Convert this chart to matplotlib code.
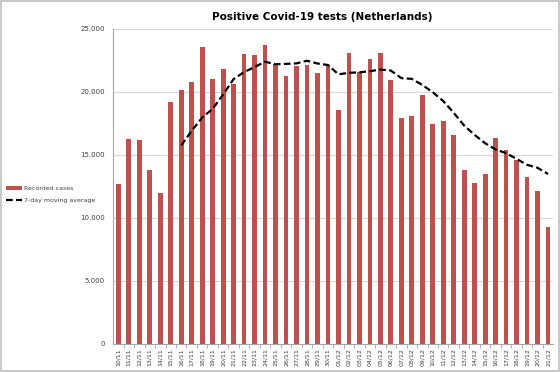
import matplotlib

matplotlib.use("Agg")
import matplotlib.pyplot as plt
from matplotlib.ticker import FuncFormatter

# Daily data 10/11 – 21/12
dates = [f"{d:02d}/11" for d in range(10, 31)] + [f"{d:02d}/12" for d in range(1, 22)]
cases = [
    12680, 16270, 16190, 13830, 12010, 19210, 20160, 20770, 23600, 21030,
    21800, 20660, 23020, 22960, 23700, 22200, 21300, 22040, 22140, 21480,
    22100, 18550, 23070, 21560, 22620, 23070, 20950, 17910, 18070, 19760,
    17460, 17730, 16590, 13780, 12750, 13470, 16320, 15370, 14580, 13250,
    12140, 9260,
]
# 7-day moving average (starts at 16/11)
avg_7d = [
    None, None, None, None, None, None, 15760, 16920, 17970, 18660,
    19800, 21030, 21580, 21980, 22400, 22200, 22230, 22270, 22480, 22260,
    22140, 21400, 21520, 21560, 21650, 21780, 21700, 21100, 21040, 20560,
    19980, 19280, 18350, 17330, 16590, 15930, 15440, 15140, 14690, 14220,
    13980, 13490,
]

_RED = "#c0504d"
_GRID = "#d9d9d9"
_AXIS = "#a6a6a6"
_TEXT = "#404040"

fig = plt.figure(figsize=(5.6, 3.72), dpi=100, facecolor="white")
ax = fig.add_axes([0.202, 0.0753, 0.786, 0.8468])

x = list(range(len(dates)))
bars = ax.bar(x, cases, width=0.45, color=_RED, zorder=2, label="Recorded cases")
ma_x = [i for i, v in zip(x, avg_7d) if v is not None]
ma_y = [v for v in avg_7d if v is not None]
(line,) = ax.plot(ma_x, ma_y, color="black", linestyle=(0, (3, 1.5)), linewidth=1.6,
                  zorder=3, label="7-day moving average")

ax.set_xlim(-0.5, len(dates) - 0.5)
ax.set_ylim(0, 25000)
ax.set_yticks(range(0, 25001, 5000))
ax.yaxis.set_major_formatter(FuncFormatter(lambda v, _: f"{int(v):,}".replace(",", ".")))
ax.set_xticks(x)
ax.set_xticklabels(dates, rotation=90, fontsize=4.5, color=_TEXT)
ax.tick_params(axis="y", labelsize=5, colors=_TEXT, length=0, pad=6)
ax.tick_params(axis="x", length=0, pad=3)
ax.set_xticks([i + 0.5 for i in x[:-1]], minor=True)
ax.tick_params(axis="x", which="minor", length=3, color=_AXIS)

ax.grid(True, axis="y", color=_GRID, linewidth=0.8, zorder=0)
for spine in ("top", "right"):
    ax.spines[spine].set_visible(False)
for spine in ("left", "bottom"):
    ax.spines[spine].set_color(_AXIS)
    ax.spines[spine].set_linewidth(0.8)

fig.text(0.575, 0.955, "Positive Covid-19 tests (Netherlands)", ha="center", va="center",
         fontsize=7.5, fontweight="bold", color="black")

fig.legend(handles=[bars, line], loc="center left", bbox_to_anchor=(0.0, 0.477),
           frameon=False, fontsize=4.5, handlelength=2.6, handleheight=0.5,
           handletextpad=0.4, labelspacing=1.0, labelcolor=_TEXT)

# outer chart border
fig.patches.append(plt.Rectangle((0.002, 0.003), 0.996, 0.994, transform=fig.transFigure,
                                 fill=False, edgecolor="#bfbfbf", linewidth=1.2))

fig.savefig("out.png", dpi=100, facecolor="white")
